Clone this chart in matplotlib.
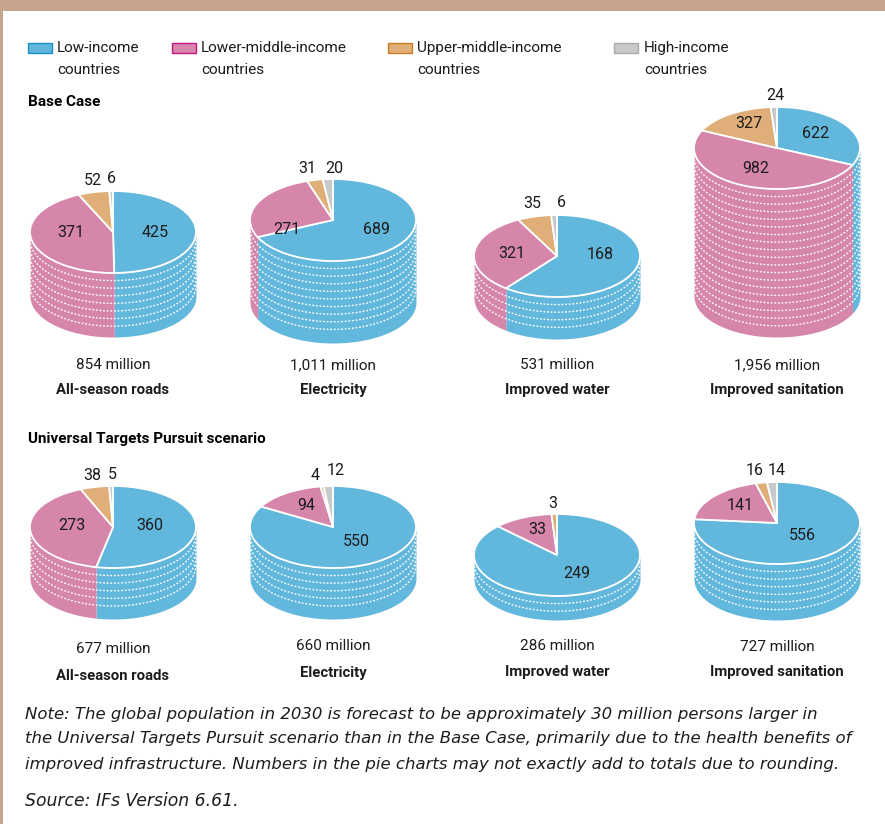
import numpy as np
import matplotlib
matplotlib.use("Agg")
import matplotlib.pyplot as plt
from matplotlib.patches import Rectangle

# =========================
# DATA
# =========================

income_groups = [
    "Low-income\ncountries",
    "Lower-middle-income\ncountries",
    "Upper-middle-income\ncountries",
    "High-income\ncountries"
]

sectors = [
    "All-season roads",
    "Electricity",
    "Improved water",
    "Improved sanitation"
]

base_totals = ["854 million", "1,011 million", "531 million", "1,956 million"]
target_totals = ["677 million", "660 million", "286 million", "727 million"]

# slice sizes as drawn (low, lower-middle, upper-middle, high)
base_roads = [425, 371, 52, 6]
base_electricity = [689, 271, 31, 20]
base_water = [321, 168, 35, 6]
base_sanitation = [622, 982, 327, 24]

target_roads = [360, 273, 38, 5]
target_electricity = [550, 94, 4, 12]
target_water = [249, 33, 3, 0]
target_sanitation = [556, 141, 16, 14]

# numbers as printed, the water pie has its two big labels swapped in the original
base_water_labels = ["168", "321", "35", "6"]

note_lines = [
    "Note: The global population in 2030 is forecast to be approximately 30 million persons larger in",
    "the Universal Targets Pursuit scenario than in the Base Case, primarily due to the health benefits of",
    "improved infrastructure. Numbers in the pie charts may not exactly add to totals due to rounding."
]
source_text = "Source: IFs Version 6.61."

# =========================
# STYLE AND LAYOUT (pixels)
# =========================

W, H = 885, 824
RX, RY = 83, 41
RING_STEP = 7.6

colors = ["#62b7dc", "#d685ab", "#e0ae78", "#c8c9cb"]
edge_colors = ["#1a8fc4", "#c4167f", "#c97e25", "#a9a9ab"]
band_color = "#c6a58c"
ink = "#1c1c1c"

label_font = "Roboto"
note_font = "DejaVu Sans"

plt.rcParams["font.family"] = [label_font, "DejaVu Sans"]

centers_x = [113, 333, 557, 777]
base_centers_y = [232, 220, 256, 148]
base_stack_px = [64, 82, 42, 148]
target_centers_y = [527, 527, 555, 523]
target_stack_px = [51, 51, 24, 56]

base_label_xy = [
    [(155, 232), (71, 232), (93, 180), (112, 178)],
    [(376, 229), (287, 229), (307, 168), (334, 168)],
    [(600, 254), (512, 253), (532, 203), (562, 202)],
    [(816, 133), (756, 168), (749, 123), (775, 95)]
]
target_label_xy = [
    [(150, 526), (72, 526), (92, 475), (112, 474)],
    [(356, 541), (306, 505), (315, 475), (336, 470)],
    [(577, 573), (537, 530), (553, 503), None],
    [(802, 535), (740, 505), (755, 470), (777, 470)]
]

base_total_y = [365, 365, 365, 365]
base_name_y = [390, 390, 390, 390]
target_total_y = [649, 646, 646, 647]
target_name_y = [676, 673, 672, 672]

legend_swatch_x = [28, 172, 388, 614]
legend_text_x = [57, 201, 417, 644]

fig = plt.figure(figsize=(W / 100, H / 100), dpi=100, facecolor="white")

# =========================
# OVERLAY FOR TEXT AND FRAME
# =========================

overlay = fig.add_axes([0, 0, 1, 1], zorder=5)
overlay.set_xlim(0, W)
overlay.set_ylim(H, 0)
overlay.axis("off")
overlay.patch.set_alpha(0)

overlay.add_patch(Rectangle((0, 0), W, 11, color=band_color, lw=0))
overlay.add_patch(Rectangle((0, 0), 3, H, color=band_color, lw=0))

# =========================
# PIE FUNCTION
# =========================


def draw_stacked_pie(cx, cy, stack_px, values):
    pad = 3
    left = (cx - RX - pad) / W
    bottom = 1 - (cy + RY + stack_px + pad) / H
    ax = fig.add_axes([left, bottom, (2 * RX + 2 * pad) / W, (2 * RY + stack_px + 2 * pad) / H])

    # side wall, one piece per slice that faces the viewer
    fractions = np.cumsum([0] + values) / sum(values)
    for i, color in enumerate(colors):
        start = 90 - 360 * fractions[i]
        end = 90 - 360 * fractions[i + 1]
        hi = min(start, 0)
        lo = max(end, -180)
        if hi <= lo:
            continue
        t = np.radians(np.linspace(lo, hi, 120))
        ax.fill_between(np.cos(t), np.sin(t), np.sin(t) - stack_px / RY, color=color, lw=0, zorder=1)

    # dotted rings round the wall
    t = np.radians(np.linspace(-180, 0, 300))
    k = 1
    while k * RING_STEP < stack_px - 6:
        ax.plot(
            np.cos(t), np.sin(t) - k * RING_STEP / RY,
            color="white", lw=1.0, ls=(0, (1.3, 1.3)), zorder=2
        )
        k += 1

    wedges, _ = ax.pie(
        values,
        colors=colors,
        startangle=90,
        counterclock=False,
        wedgeprops={"edgecolor": "white", "linewidth": 1.3, "zorder": 3}
    )

    ax.set_aspect("auto")
    ax.set_xlim(-1 - pad / RX, 1 + pad / RX)
    ax.set_ylim(-1 - (stack_px + pad) / RY, 1 + pad / RY)
    ax.axis("off")


# =========================
# DRAW PIES
# =========================

base_values = [base_roads, base_electricity, base_water, base_sanitation]
target_values = [target_roads, target_electricity, target_water, target_sanitation]

for i in range(4):
    draw_stacked_pie(centers_x[i], base_centers_y[i], base_stack_px[i], base_values[i])
    draw_stacked_pie(centers_x[i], target_centers_y[i], target_stack_px[i], target_values[i])

    if i == 2:
        labels = base_water_labels
    else:
        labels = [str(v) for v in base_values[i]]
    for text, xy in zip(labels, base_label_xy[i]):
        overlay.text(xy[0], xy[1], text, fontsize=11.5, color=ink, ha="center", va="center")

    for value, xy in zip(target_values[i], target_label_xy[i]):
        if xy is not None:
            overlay.text(xy[0], xy[1], str(value), fontsize=11.5, color=ink, ha="center", va="center")

    overlay.text(centers_x[i], base_total_y[i], base_totals[i], fontsize=11, color=ink, ha="center", va="center")
    overlay.text(centers_x[i], base_name_y[i], sectors[i], fontsize=10.7, color=ink, weight="bold", ha="center", va="center")
    overlay.text(centers_x[i], target_total_y[i], target_totals[i], fontsize=11, color=ink, ha="center", va="center")
    overlay.text(centers_x[i], target_name_y[i], sectors[i], fontsize=10.7, color=ink, weight="bold", ha="center", va="center")

# =========================
# LEGEND AND TITLES
# =========================

for i in range(4):
    overlay.add_patch(Rectangle(
        (legend_swatch_x[i], 43), 24, 10,
        facecolor=colors[i], edgecolor=edge_colors[i], lw=1
    ))
    first, second = income_groups[i].split("\n")
    overlay.text(legend_text_x[i], 48, first, fontsize=11, color=ink, ha="left", va="center")
    overlay.text(legend_text_x[i], 69.5, second, fontsize=11, color=ink, ha="left", va="center")

overlay.text(28, 102, "Base Case", fontsize=11, color="black", weight="bold", ha="left", va="center")
overlay.text(28, 439, "Universal Targets Pursuit scenario", fontsize=11, color="black", weight="bold", ha="left", va="center")

# =========================
# NOTE
# =========================

for y, line in zip([714, 739, 765], note_lines):
    overlay.text(25, y, line, fontsize=11.87, style="italic", family=note_font, color=ink, ha="left", va="center")
overlay.text(25, 801, source_text, fontsize=12.4, style="italic", family=note_font, color=ink, ha="left", va="center")

fig.savefig("out.png", dpi=100)
